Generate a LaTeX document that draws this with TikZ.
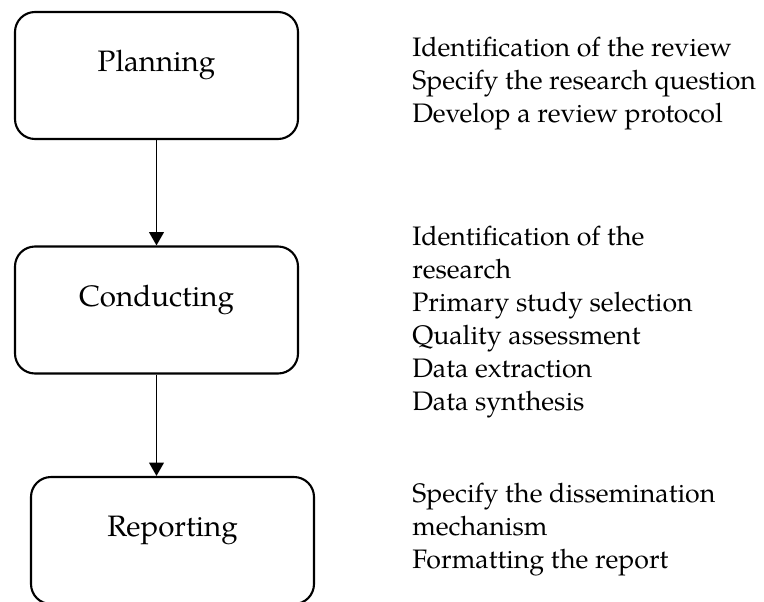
\documentclass[tikz,border=0pt]{standalone}
\usepackage{fontspec}
\setmainfont{texgyrepagella-regular.otf}
\usetikzlibrary{arrows.meta, positioning}

\begin{document}
\begin{tikzpicture}[
    phase/.style={draw, line width=1.5pt, rounded corners=0.5cm,
      minimum width=7.075cm, minimum height=3.175cm,
      text height=0.45cm, text depth=0.64cm,
      font=\fontsize{21}{25}\selectfont},
    steps/.style={anchor=base west, align=left, inner sep=0pt,
      font=\fontsize{19}{23.4}\selectfont},
    flow/.style={-{Triangle[width=10.5pt,length=9.5pt]}, line width=1.1pt}]
  \useasboundingbox (0,0) rectangle (19.1,-15.025);
  \draw (3.9125,-1.8875) node[phase] (planning) {Planning};
  \draw (3.9125,-7.75) node[phase] (conducting) {Conducting};
  \draw (4.3125,-13.5125) node[phase] (reporting) {Reporting};
  % base is the last line of each list
  \node[steps] (planningsteps) at (10.3,-3.05)
    {Identification of the review\\Specify the research question\\Develop a review protocol};
  \node[steps] (conductingsteps) at (10.3,-10.25)
    {Identification of the\\research\\Primary study selection\\Quality assessment\\Data extraction\\Data synthesis};
  \node[steps] (reportingsteps) at (10.3,-14.2)
    {Specify the dissemination\\mechanism\\Formatting the report};
  \draw[flow] (planning) -- (conducting);
  \draw[flow] (conducting.south) -- (conducting.south |- reporting.north);
\end{tikzpicture}
\end{document}
